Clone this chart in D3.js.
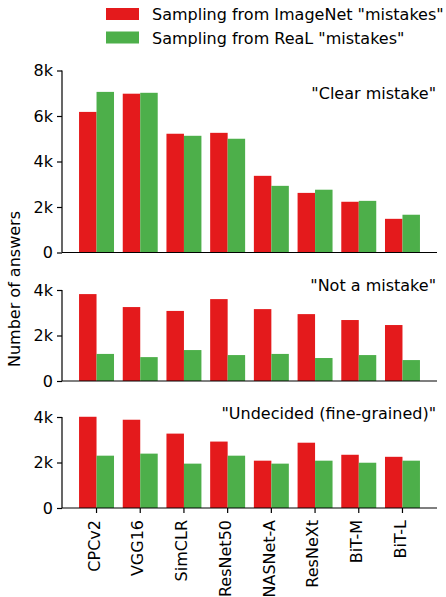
<!DOCTYPE html>
<html>
<head>
<meta charset="utf-8">
<script src="https://cdn.jsdelivr.net/npm/d3@7"></script>
<style>
  html, body { margin: 0; padding: 0; background: #fff; }
  svg { display: block; font-family: "DejaVu Sans", sans-serif; }
</style>
</head>
<body>
<svg id="chart" width="446" height="597"></svg>
<script>
const categories = ["CPCv2", "VGG16", "SimCLR", "ResNet50", "NASNet-A", "ResNeXt", "BiT-M", "BiT-L"];
const seriesNames = ['Sampling from ImageNet "mistakes"', 'Sampling from ReaL "mistakes"'];
const seriesColors = ["#e41a1c", "#4daf4a"];
const panelTitles = ['"Clear mistake"', '"Not a mistake"', '"Undecided (fine-grained)"'];

const clearImageNet = [6180, 6980, 5220, 5260, 3370, 2620, 2230, 1480];
const clearReaL     = [7060, 7020, 5130, 5000, 2930, 2760, 2270, 1660];
const notImageNet   = [3820, 3250, 3080, 3600, 3160, 2940, 2680, 2460];
const notReaL       = [1190, 1050, 1360, 1140, 1190, 1010, 1140, 920];
const undImageNet   = [4010, 3880, 3270, 2920, 2080, 2870, 2340, 2250];
const undReaL       = [2300, 2390, 1950, 2300, 1950, 2080, 1990, 2080];

const yTicks1 = [0, 2000, 4000, 6000, 8000];
const yTicks2 = [0, 2000, 4000];
const yTickLabels = {0: "0", 2000: "2k", 4000: "4k", 6000: "6k", 8000: "8k"};

const panels = [
  {title: panelTitles[0], series: [clearImageNet, clearReaL], max: 8000, ticks: yTicks1, top: 70.5, bottom: 252.5, titleY: 99},
  {title: panelTitles[1], series: [notImageNet, notReaL], max: 4000, ticks: yTicks2, top: 290, bottom: 381, titleY: 291},
  {title: panelTitles[2], series: [undImageNet, undReaL], max: 4000, ticks: yTicks2, top: 417, bottom: 508, titleY: 419}
];

const svg = d3.select("#chart");
const left = 62, right = 437;

const x = d3.scaleBand().domain(categories).range([left, right]).paddingInner(0.2).paddingOuter(0.39);
const xs = d3.scaleBand().domain([0, 1]).range([0, x.bandwidth()]);

panels.forEach((p, pi) => {
  const y = d3.scaleLinear().domain([0, p.max]).range([p.bottom, p.top]);
  const g = svg.append("g");
  p.series.forEach((vals, si) => {
    g.selectAll(null).data(vals).enter().append("rect")
      .attr("x", (d, i) => x(categories[i]) + xs(si))
      .attr("width", xs.bandwidth())
      .attr("y", d => y(d))
      .attr("height", d => y(0) - y(d))
      .attr("fill", seriesColors[si]);
  });
  // y axis
  const yAxis = d3.axisLeft(y).tickValues(p.ticks).tickFormat(d => yTickLabels[d]).tickSize(5).tickPadding(4);
  const ya = g.append("g").attr("transform", `translate(${left},0)`).call(yAxis);
  ya.select(".domain").attr("stroke", "#000").attr("stroke-width", 1.2).attr("d", `M-0,${p.top}V${p.bottom}`);
  ya.selectAll(".tick line").attr("stroke", "#000").attr("stroke-width", 1.2);
  ya.selectAll(".tick text").attr("font-size", 16).attr("fill", "#000").attr("font-family", "DejaVu Sans");
  // x axis
  const xAxis = d3.axisBottom(x).tickSize(pi === 2 ? 5 : 0).tickFormat(pi === 2 ? (d => d) : (() => ""));
  const xa = g.append("g").attr("transform", `translate(0,${p.bottom})`).call(xAxis);
  xa.select(".domain").attr("stroke", "#000").attr("stroke-width", 1.2).attr("d", `M${left},0H${right}`);
  xa.selectAll(".tick line").attr("stroke", "#000").attr("stroke-width", 1.2);
  if (pi === 2) {
    xa.selectAll(".tick text")
      .attr("font-size", 16).attr("fill", "#000").attr("font-family", "DejaVu Sans")
      .attr("text-anchor", "end")
      .attr("transform", "rotate(-90)")
      .attr("x", -12).attr("y", 0).attr("dy", "0.2em");
  }
  // title
  g.append("text").attr("x", 436).attr("y", p.titleY).attr("text-anchor", "end")
    .attr("font-size", 16).attr("fill", "#000").text(p.title);
});

// y label
svg.append("text").attr("transform", "translate(20,289) rotate(-90)")
  .attr("text-anchor", "middle").attr("font-size", 16).attr("fill", "#000")
  .text("Number of answers");

// legend
const leg = svg.append("g");
seriesNames.forEach((name, i) => {
  const cy = 14 + i * 23.5;
  leg.append("rect").attr("x", 106).attr("y", cy - 6).attr("width", 33).attr("height", 12).attr("fill", seriesColors[i]);
  leg.append("text").attr("x", 152).attr("y", cy + 6).attr("font-size", 16).attr("fill", "#000").text(name);
});
</script>
</body>
</html>
